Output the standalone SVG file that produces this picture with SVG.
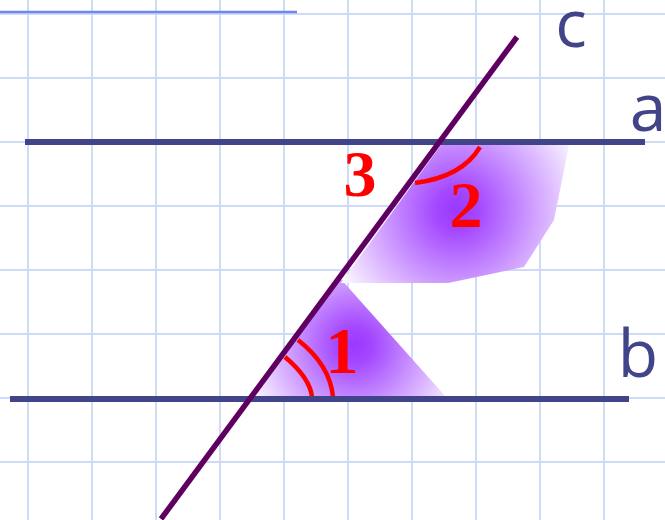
<svg xmlns="http://www.w3.org/2000/svg" width="665" height="520" viewBox="0 0 665 520">
<style>
.grid line{stroke:#cfdaf7;stroke-width:2}
.par{stroke:#414489;stroke-width:6;fill:none}
.arc{stroke:#ff0000;stroke-width:4.5;fill:none;stroke-linecap:butt}
.lbl{font-family:"Open Sans","DejaVu Sans",sans-serif;font-size:66px;fill:#414489;text-anchor:middle}
.num{font-family:"Liberation Serif","Times New Roman",serif;font-weight:bold;font-size:66px;fill:#ff0000;text-anchor:middle}
</style>
<defs>
<radialGradient id="g2" gradientUnits="userSpaceOnUse" cx="457" cy="210" r="138">
<stop offset="0" stop-color="#9a38ff"/>
<stop offset="0.15" stop-color="#a447ff"/>
<stop offset="1" stop-color="#ffffff"/>
</radialGradient>
<radialGradient id="g1" gradientUnits="userSpaceOnUse" cx="355" cy="345" r="118">
<stop offset="0" stop-color="#9a38ff"/>
<stop offset="0.15" stop-color="#a447ff"/>
<stop offset="1" stop-color="#ffffff"/>
</radialGradient>
</defs>
<rect width="665" height="520" fill="#ffffff"/>
<g class="grid" id="grid">
<line x1="28" y1="0" x2="28" y2="520"/><line x1="92" y1="0" x2="92" y2="520"/><line x1="156" y1="0" x2="156" y2="520"/><line x1="220" y1="0" x2="220" y2="520"/><line x1="284" y1="0" x2="284" y2="520"/><line x1="348" y1="0" x2="348" y2="520"/><line x1="412" y1="0" x2="412" y2="520"/><line x1="476" y1="0" x2="476" y2="520"/><line x1="540" y1="0" x2="540" y2="520"/><line x1="604" y1="0" x2="604" y2="520"/>
<line x1="0" y1="14" x2="665" y2="14"/><line x1="0" y1="78" x2="665" y2="78"/><line x1="0" y1="142" x2="665" y2="142"/><line x1="0" y1="206" x2="665" y2="206"/><line x1="0" y1="270" x2="665" y2="270"/><line x1="0" y1="334" x2="665" y2="334"/><line x1="0" y1="398" x2="665" y2="398"/><line x1="0" y1="462" x2="665" y2="462"/>
</g>
<line x1="0" y1="12" x2="297" y2="12" stroke="#7088ea" stroke-width="2.5"/>
<g id="angle1">
<polygon points="339,277 446,397 251,397" fill="url(#g1)"/>
</g>
<g id="angle2">
<polygon points="441,145 569,145 554,220 524,267 448,283 341,283" fill="url(#g2)"/>
</g>
<g id="arcs">
<path class="arc" d="M415,183 Q462,177 480,147"/>
<path class="arc" d="M298,340 Q330,365 333,397"/>
<path class="arc" d="M285,357 Q310,378 312,397"/>
</g>
<g id="lines">
<line id="line-a" class="par" x1="25" y1="142" x2="645" y2="142"/>
<line id="line-b" class="par" x1="10" y1="399" x2="629" y2="399"/>
<line id="line-c" x1="517" y1="37" x2="161" y2="519" stroke="#5f0060" stroke-width="5.5"/>
</g>
<g id="labels">
<text class="lbl" x="571" y="47">c</text>
<text class="lbl" x="648" y="131">a</text>
<text class="lbl" x="638" y="377">b</text>
<text class="num" x="360" y="196">3</text>
<text class="num" x="466" y="227">2</text>
<text class="num" x="342" y="373">1</text>
</g>
</svg>
